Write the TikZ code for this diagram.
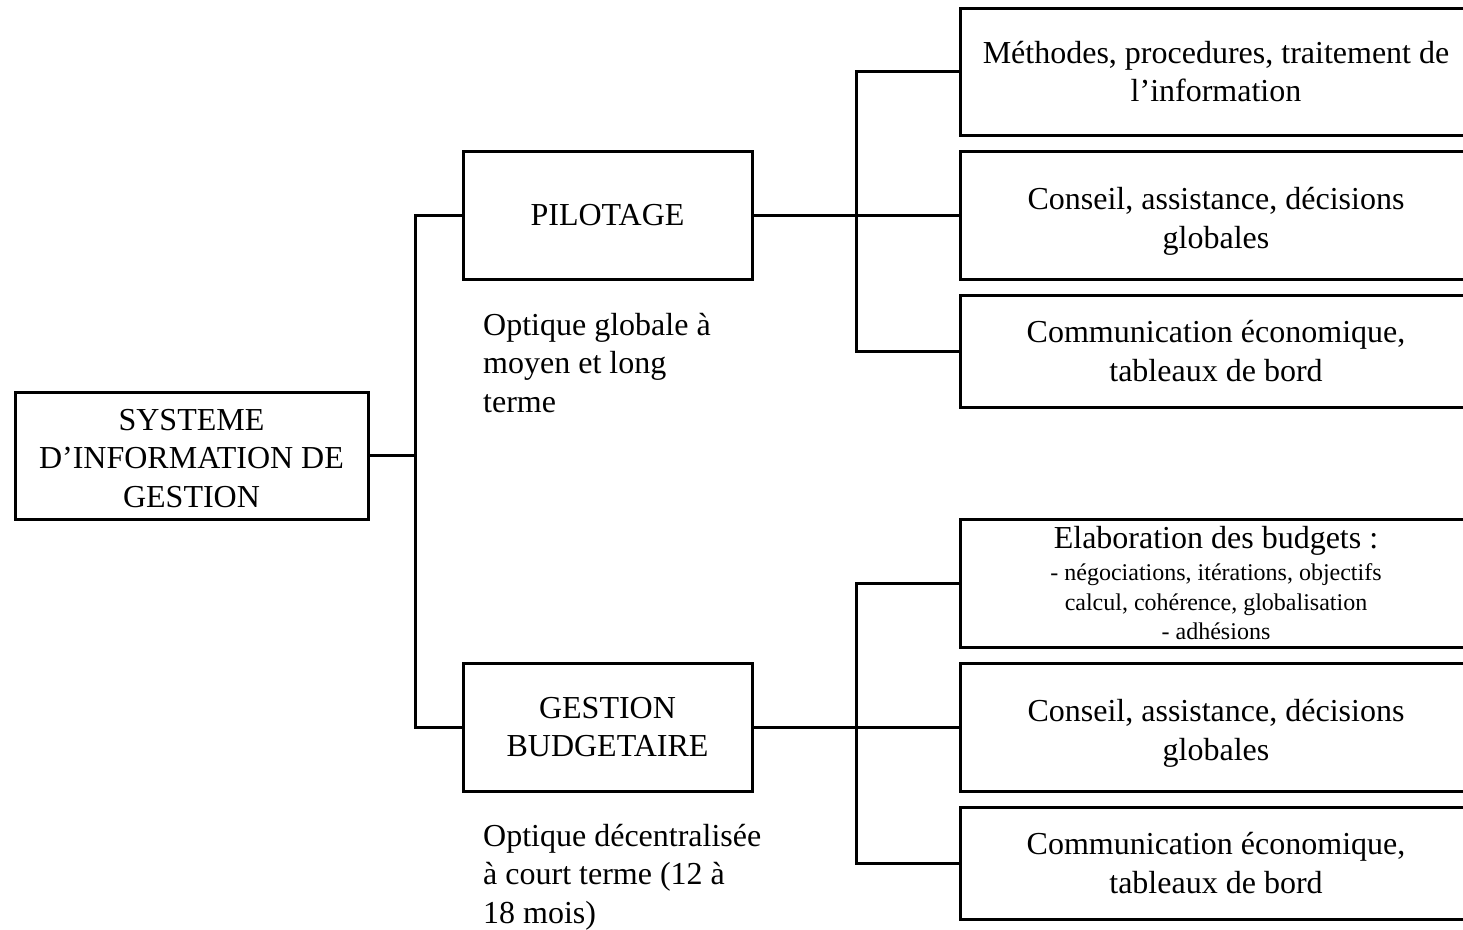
\documentclass[tikz,border=0pt]{standalone}
\usepackage{fontspec}
\setmainfont{Liberation Serif}
\begin{document}
\begin{tikzpicture}[x=1pt,y=-1pt,
  box/.style={draw, line width=3pt, inner sep=0pt, align=center,
    font=\fontsize{32}{38.5}\selectfont},
  note/.style={inner sep=0pt, anchor=base west, align=left,
    font=\fontsize{32}{38.5}\selectfont},
  link/.style={line width=3pt}]
\useasboundingbox (0,0) rectangle (1463,929);
\node[box, minimum width=353pt, minimum height=127pt] (sys) at (191.5,455.5)
  {\rule{0pt}{27pt}SYSTEME\\D’INFORMATION DE\\GESTION};
\node[box, minimum width=289pt, minimum height=128pt] (pil) at (607.5,215) {PILOTAGE};
\node[box, minimum width=289pt, minimum height=128pt] (ges) at (607.5,727) {GESTION\\BUDGETAIRE};
\node[note] (n1) at (483,412) {Optique globale à\\moyen et long\\terme};
\node[note] (n2) at (483,923) {Optique décentralisée\\à court terme (12 à\\18 mois)};
\node[box, minimum width=512pt, minimum height=127pt] (r1) at (1216,71.5)
  {Méthodes, procedures, traitement de\\l’information};
\node[box, minimum width=512pt, minimum height=128pt] (r2) at (1216,215)
  {\rule{0pt}{35pt}Conseil, assistance, décisions\\globales};
\node[box, minimum width=512pt, minimum height=112pt] (r3) at (1216,351)
  {Communication économique,\\tableaux de bord};
\node[box, minimum width=512pt, minimum height=128pt] (r4) at (1216,583)
  {Elaboration des budgets :\\[-6pt]
   {\fontsize{24}{28.5}\selectfont - négociations, itérations, objectifs}\\[-9pt]
   {\fontsize{24}{28.5}\selectfont calcul, cohérence, globalisation}\\[-9pt]
   {\fontsize{24}{28.5}\selectfont - adhésions}};
\node[box, minimum width=512pt, minimum height=128pt] (r5) at (1216,727)
  {\rule{0pt}{35pt}Conseil, assistance, décisions\\globales};
\node[box, minimum width=512pt, minimum height=112pt] (r6) at (1216,863)
  {Communication économique,\\tableaux de bord};
\coordinate (j1) at (415,455.5);
\coordinate (j2) at (856,215);
\coordinate (j3) at (856,727);
\draw[link] (sys.east) -- (j1);
\draw[link] (pil.west) -| (j1);
\draw[link] (ges.west) -| (j1);
\draw[link] (pil.east) -- (r2.west);
\draw[link] (r1.west) -| (j2);
\draw[link] (r3.west) -| (j2);
\draw[link] (ges.east) -- (r5.west);
\draw[link] (r4.west) -| (j3);
\draw[link] (r6.west) -| (j3);
\end{tikzpicture}
\end{document}
